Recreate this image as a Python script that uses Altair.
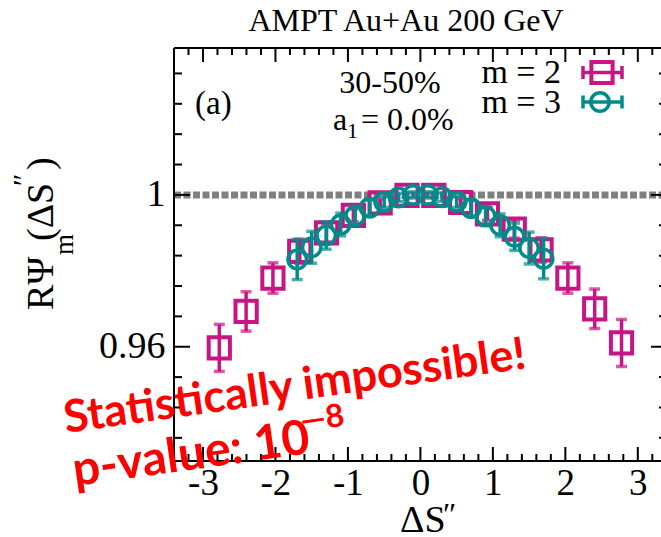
import altair as alt
import pandas as pd

# ---------------------------------------------------------------- data
# m = 2 : bin centres, correlator values and statistical errors
dS_m2 = [-2.775, -2.405, -2.035, -1.665, -1.295, -0.925, -0.555, -0.185,
         0.185, 0.555, 0.925, 1.295, 1.665, 2.035, 2.405, 2.775]
R_m2 = [0.9597, 0.9693, 0.9781, 0.9851, 0.9900, 0.9946, 0.9979, 0.9999,
        0.9999, 0.9980, 0.9950, 0.9910, 0.9855, 0.9781, 0.9700, 0.9610]
err_m2 = [0.0062, 0.0052, 0.0040, 0.0032, 0.0024, 0.0017, 0.0010, 0.0006,
          0.0006, 0.0010, 0.0017, 0.0024, 0.0032, 0.0040, 0.0052, 0.0062]

# m = 3
dS_m3 = [-1.7, -1.5, -1.3, -1.1, -0.9, -0.7, -0.5, -0.3, -0.1,
         0.1, 0.3, 0.5, 0.7, 0.9, 1.1, 1.3, 1.5, 1.7]
R_m3 = [0.9830, 0.9862, 0.9893, 0.9922, 0.9945, 0.9966, 0.9982, 0.9993, 1.0000,
        1.0000, 0.9994, 0.9982, 0.9965, 0.9944, 0.9920, 0.9890, 0.9860, 0.9832]
err_m3 = [0.0053, 0.0042, 0.0036, 0.0030, 0.0025, 0.0020, 0.0015, 0.0011, 0.0008,
          0.0008, 0.0011, 0.0015, 0.0020, 0.0025, 0.0030, 0.0036, 0.0042, 0.0053]

# axis ticks
x_major = [-3, -2, -1, 0, 1, 2, 3]
x_minor = [-3.4, -3.2, -2.8, -2.6, -2.4, -2.2, -1.8, -1.6, -1.4, -1.2, -0.8, -0.6,
           -0.4, -0.2, 0.2, 0.4, 0.6, 0.8, 1.2, 1.4, 1.6, 1.8, 2.2, 2.4, 2.6, 2.8, 3.2]
y_major = [0.96, 1.0]
y_minor = [0.936, 0.944, 0.952, 0.968, 0.976, 0.984, 0.992, 1.008, 1.016, 1.024, 1.032]
reference_level = [1.0]

# ---------------------------------------------------------------- style
SERIF = "Liberation Serif"
MAGENTA = "#C71585"
TEAL = "#008B8B"
W, H = 487, 413          # plot area
FR = 493                 # right frame (x = 3.4), just beyond the visible page

xs = alt.Scale(domain=[-3.4, 3.32], nice=False, zero=False)
ys = alt.Scale(domain=[0.9299, 1.0387], nice=False, zero=False)
xa = alt.Axis(values=x_major, labelExpr="'' + datum.value", domain=False, ticks=False,
              tickSize=0, grid=False, labelFont=SERIF, labelFontSize=37,
              labelColor="black", labelPadding=4, title=None, labelFlush=False)
ya = alt.Axis(values=y_major, format="~g", domain=False, ticks=False, tickSize=0,
              grid=False, labelFont=SERIF, labelFontSize=38, labelColor="black",
              labelPadding=9, title=None)


def X(f):
    return alt.X(f, type="quantitative", scale=xs, axis=xa)


def Y(f):
    return alt.Y(f, type="quantitative", scale=ys, axis=ya)


def series(dS, R, err, color, shape, size, sw):
    df = pd.DataFrame({"dS": dS, "R": R, "err": err})
    df["lo"] = df["R"] - df["err"]
    df["hi"] = df["R"] + df["err"]
    base = alt.Chart(df)
    bar = base.mark_rule(color=color, strokeWidth=3.5).encode(
        x=X("dS"), y=Y("lo"), y2=alt.Y2("hi"))
    cap_lo = base.mark_tick(color=color, orient="horizontal", size=11,
                            thickness=3.5).encode(x=X("dS"), y=Y("lo"))
    cap_hi = base.mark_tick(color=color, orient="horizontal", size=11,
                            thickness=3.5).encode(x=X("dS"), y=Y("hi"))
    pts = base.mark_point(shape=shape, filled=False, color=color, size=size,
                          strokeWidth=sw, opacity=1).encode(x=X("dS"), y=Y("R"))
    return [bar, cap_lo, cap_hi, pts]


def vals(v):
    return alt.Chart(pd.DataFrame({"v": v}))


one = alt.Chart(pd.DataFrame({"k": [0]}))


def label(txt, x, y, size, font=SERIF, align="left", color="black", **kw):
    return one.mark_text(text=txt, font=font, fontSize=size, align=align,
                         baseline="alphabetic", color=color, **kw).encode(
        x=alt.value(x), y=alt.value(y))


layers = []

# reference line at R = 1
layers.append(vals(reference_level).mark_rule(
    color="#808080", strokeWidth=7, strokeDash=[7, 2.5]).encode(
    y=Y("v"), x=alt.value(0), x2=alt.value(FR)))

layers += series(dS_m2, R_m2, err_m2, MAGENTA, "square", 450, 4)
layers += series(dS_m3, R_m3, err_m3, TEAL, "circle", 340, 3.5)

# frame
frame = dict(color="black", strokeWidth=2)
layers.append(one.mark_rule(**frame).encode(x=alt.value(0), x2=alt.value(FR), y=alt.value(0)))
layers.append(one.mark_rule(**frame).encode(x=alt.value(0), x2=alt.value(FR), y=alt.value(H)))
layers.append(one.mark_rule(**frame).encode(x=alt.value(0), y=alt.value(0), y2=alt.value(H)))

# inward ticks on all four sides
tk = dict(color="black", strokeWidth=2)
for v, ln in ((x_major, 14), (x_minor, 7)):
    layers.append(vals(v).mark_rule(**tk).encode(x=X("v"), y=alt.value(H), y2=alt.value(H - ln)))
    layers.append(vals(v).mark_rule(**tk).encode(x=X("v"), y=alt.value(0), y2=alt.value(ln)))
for v, ln in ((y_major, 16), (y_minor, 8)):
    layers.append(vals(v).mark_rule(**tk).encode(y=Y("v"), x=alt.value(0), x2=alt.value(ln)))
    layers.append(vals(v).mark_rule(**tk).encode(y=Y("v"), x=alt.value(FR - ln), x2=alt.value(FR)))

# header and in-panel labels
layers.append(label("AMPT Au+Au 200 GeV", 232, -17, 32, align="center"))
layers.append(label("(a)", 21, 66, 33))
layers.append(label("30-50%", 216, 45, 32, align="center"))
layers.append(label("a", 159, 82, 32))
layers.append(label("1", 173, 90, 22))
layers.append(label(" = 0.0%", 187, 82, 32))
layers.append(label("m = 2", 387, 35, 34, align="right"))
layers.append(label("m = 3", 387, 65, 34, align="right"))

# legend keys
for yc, color in ((24.5, MAGENTA), (54, TEAL)):
    layers.append(one.mark_rule(color=color, strokeWidth=3.5).encode(
        x=alt.value(409), x2=alt.value(448), y=alt.value(yc)))
    for xc in (409, 448):
        layers.append(one.mark_rule(color=color, strokeWidth=3.5).encode(
            x=alt.value(xc), y=alt.value(yc - 6.5), y2=alt.value(yc + 6.5)))
layers.append(one.mark_point(shape="square", filled=False, color=MAGENTA, size=450,
                             strokeWidth=4, opacity=1).encode(x=alt.value(428), y=alt.value(24.5)))
layers.append(one.mark_point(shape="circle", filled=False, color=TEAL, size=340,
                             strokeWidth=3.5, opacity=1).encode(x=alt.value(426), y=alt.value(54)))

# axis titles
yt = dict(angle=270)
layers.append(label("RΨ", -121, 262, 38, **yt))
layers.append(label("m", -121, 262, 27, dx=55, dy=20, **yt))
layers.append(label("(ΔS", -121, 262, 38, dx=69, **yt))
layers.append(label("″", -121, 262, 30, dx=124, dy=-20, **yt))
layers.append(label(")", -121, 262, 38, dx=140, **yt))
layers.append(label("ΔS", 226, 484, 38))
layers.append(label("″", 269, 477, 32))

# red annotation
red = dict(font="Lato", color="#FF0000", fontWeight="bold", angle=352)
layers.append(label("Statistically impossible!", -108, 385, 45, **red))
layers.append(label("p-value: 10", -99, 438, 48, **red))
layers.append(label("—8", -99, 438, 32, dx=232, dy=-22, **red))

chart = alt.layer(*layers).properties(
    width=W, height=H,
    autosize=alt.AutoSizeParams(type="none"),
    padding={"left": 174, "top": 48, "right": 0, "bottom": 76},
    background="white",
).configure_view(stroke=None)

chart.save("out.html", embed_options={"renderer": "svg", "actions": False})
